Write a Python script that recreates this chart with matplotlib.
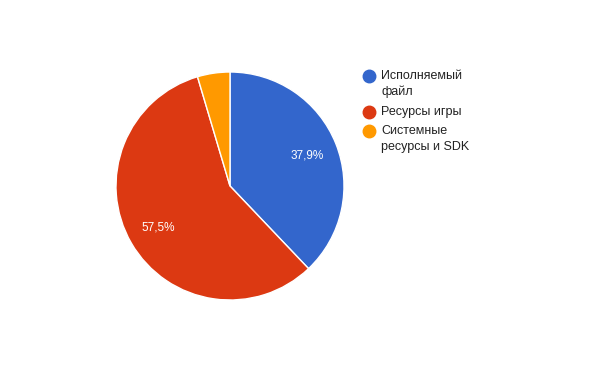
import matplotlib
matplotlib.use("Agg")
import matplotlib.pyplot as plt
from matplotlib.lines import Line2D

plt.rcParams['font.family'] = ['Liberation Sans', 'DejaVu Sans']

labels = ['Исполняемый\nфайл', 'Ресурсы игры', 'Системные\nресурсы и SDK']
values = [37.9, 57.5, 4.6]
colors = ['#3366CC', '#DC3912', '#FF9900']


def pct(p):
    if p < 5:
        return ''
    return ('%.1f%%' % p).replace('.', ',')


fig = plt.figure(figsize=(6, 3.71), dpi=100)
ax = fig.add_axes([116 / 600, 71 / 371, 228 / 600, 228 / 371])
wedges, texts, autotexts = ax.pie(values, colors=colors, startangle=90, counterclock=False,
                                  autopct=pct, pctdistance=0.73,
                                  wedgeprops=dict(edgecolor='white', linewidth=1))
for t in autotexts:
    t.set_color('white')
    t.set_fontsize(8.5)
ax.set_xlim(-1, 1)
ax.set_ylim(-1, 1)
ax.set_aspect('equal')

# legend drawn by hand so marker sits next to the first line
y = 76
for lab, col in zip(labels, colors):
    fig.add_artist(Line2D([369 / 600], [1 - y / 371], marker='o', markersize=9,
                          color=col, linestyle='none', transform=fig.transFigure))
    fig.text(381 / 600, 1 - (y - 6) / 371, lab, fontsize=9, color='#222222',
             va='top', ha='left', linespacing=1.4)
    y += 17 * (lab.count('\n') + 1) + 2

fig.savefig('out.png', dpi=100)
